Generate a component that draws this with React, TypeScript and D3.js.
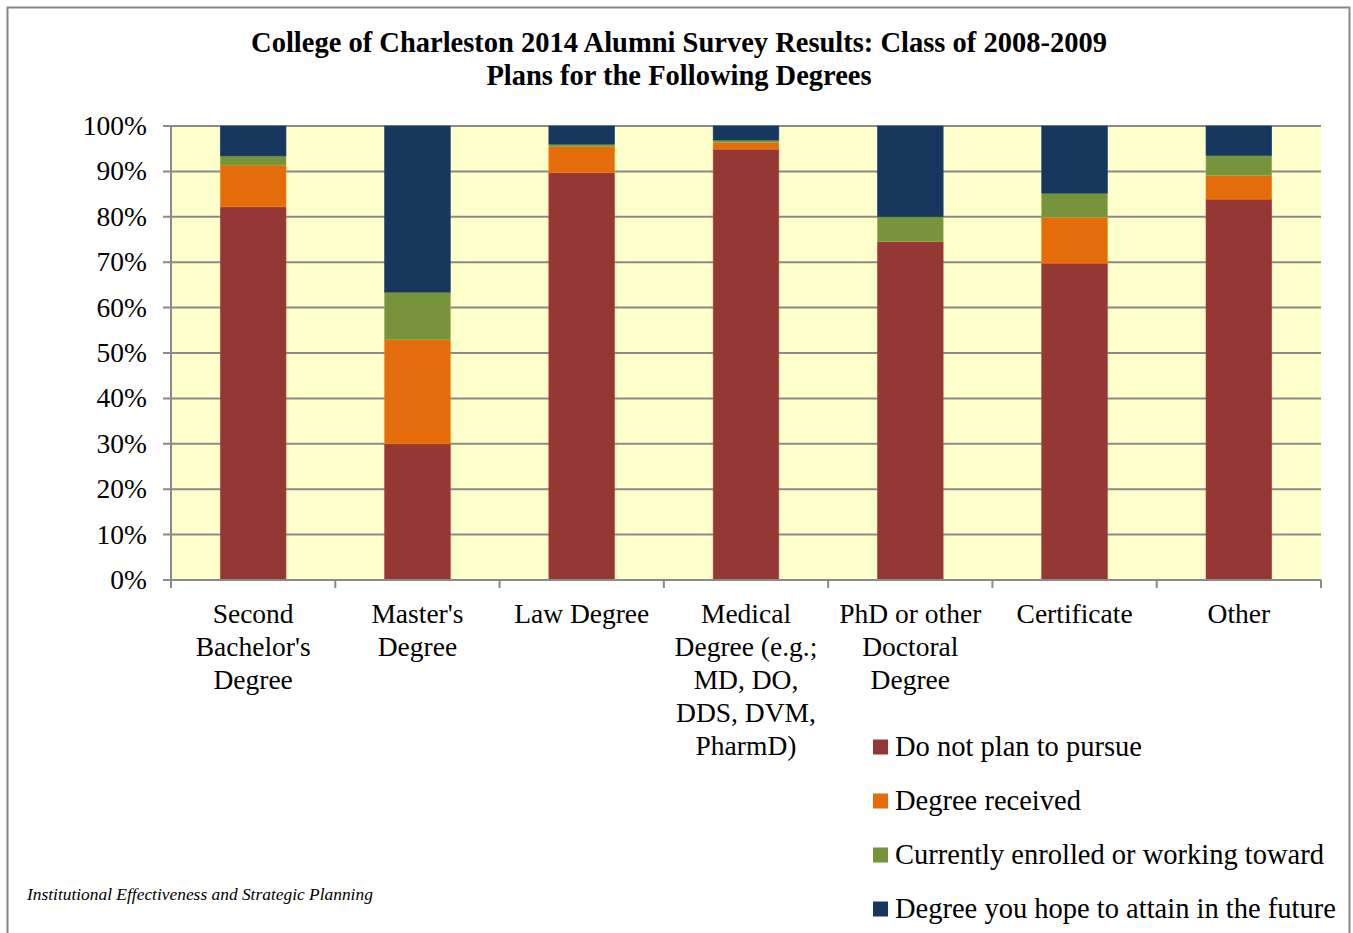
import React from "react";
import * as d3 from "d3";

const categories = [
  "Second\nBachelor's\nDegree",
  "Master's\nDegree",
  "Law Degree",
  "Medical\nDegree (e.g.;\nMD, DO,\nDDS, DVM,\nPharmD)",
  "PhD or other\nDoctoral\nDegree",
  "Certificate",
  "Other",
];
const seriesNames = [
  "Do not plan to pursue",
  "Degree received",
  "Currently enrolled or working toward",
  "Degree you hope to attain in the future",
];
const notPursue = [82.2, 30.0, 89.7, 94.9, 74.5, 69.8, 83.9];
const received = [9.2, 22.9, 5.8, 1.5, 0.0, 10.1, 5.2];
const enrolled = [2.0, 10.5, 0.5, 0.5, 5.5, 5.3, 4.4];
const hopeFuture = [6.6, 36.6, 4.0, 3.1, 20.0, 14.8, 6.5];
const yTicks = [0, 10, 20, 30, 40, 50, 60, 70, 80, 90, 100];
const colors = ["#953735", "#E46C0A", "#77933C", "#17375E"];

const W = 1353;
const H = 933;
const serif = "'Liberation Serif', 'DejaVu Serif', serif";

export default function App() {
  const left = 171, right = 1321, top = 126, bottom = 580;

  const x = d3.scaleBand().domain(categories).range([left, right]).paddingInner(0.6).paddingOuter(0.3);
  const band = d3.scaleBand().domain(categories).range([left, right]);
  const y = d3.scaleLinear().domain([0, 100]).range([bottom, top]);

  const table = categories.map((c, i) => ({
    cat: c,
    s0: notPursue[i],
    s1: received[i],
    s2: enrolled[i],
    s3: hopeFuture[i],
  }));
  const stack = d3.stack<any>().keys(["s0", "s1", "s2", "s3"]);
  const layers = stack(table);

  return (
    <svg width={W} height={H} style={{ position: "absolute", left: 0, top: 0 }} fontFamily={serif}>
      <rect x={0} y={0} width={W} height={H} fill="white" />
      <rect x={7.5} y={7.5} width={1342} height={940} fill="none" stroke="#868686" strokeWidth={2} />

      <text x={679} y={52} textAnchor="middle" fontWeight="bold" fontSize={28.5}>
        College of Charleston 2014 Alumni Survey Results: Class of 2008-2009
      </text>
      <text x={679} y={85} textAnchor="middle" fontWeight="bold" fontSize={28.5}>
        Plans for the Following Degrees
      </text>

      <rect x={left} y={top} width={right - left} height={bottom - top} fill="#FFFFCC" />
      {yTicks.map(t => (
        <g key={t}>
          <line x1={163} x2={right} y1={y(t)} y2={y(t)} stroke="#8a8a8a" strokeWidth={2} />
          <text x={147} y={y(t) + 9} textAnchor="end" fontSize={27.5}>{t}%</text>
        </g>
      ))}

      {layers.map((layer, k) => (
        <g key={k} fill={colors[k]}>
          {layer.map((d, i) => (
            <rect key={i} x={x(categories[i])} width={x.bandwidth()}
              y={y(d[1])} height={Math.max(0, y(d[0]) - y(d[1]))}
              stroke={d3.color(colors[k])!.brighter(0.6).toString()} strokeWidth={0.6} />
          ))}
        </g>
      ))}

      <line x1={left} x2={left} y1={top} y2={bottom + 8} stroke="#8a8a8a" strokeWidth={2} />
      <line x1={left} x2={right} y1={bottom} y2={bottom} stroke="#8a8a8a" strokeWidth={2} />
      {categories.map((c, i) => (
        <line key={i} x1={band(c)! + band.bandwidth()} x2={band(c)! + band.bandwidth()} y1={bottom} y2={bottom + 8} stroke="#8a8a8a" strokeWidth={2} />
      ))}

      {categories.map((c, i) => (
        <text key={i} textAnchor="middle" fontSize={27.5}>
          {c.split("\n").map((ln, j) => (
            <tspan key={j} x={band(c)! + band.bandwidth() / 2} y={623 + j * 33}>{ln}</tspan>
          ))}
        </text>
      ))}

      {seriesNames.map((s, k) => (
        <g key={s} transform={`translate(873, ${747 + k * 54})`}>
          <rect x={0} y={-7.5} width={15} height={15} fill={colors[k]} />
          <text x={22} y={9} fontSize={28.5}>{s}</text>
        </g>
      ))}

      <text x={27} y={900} fontSize={17.4} fontStyle="italic">
        Institutional Effectiveness and Strategic Planning
      </text>
    </svg>
  );
}
